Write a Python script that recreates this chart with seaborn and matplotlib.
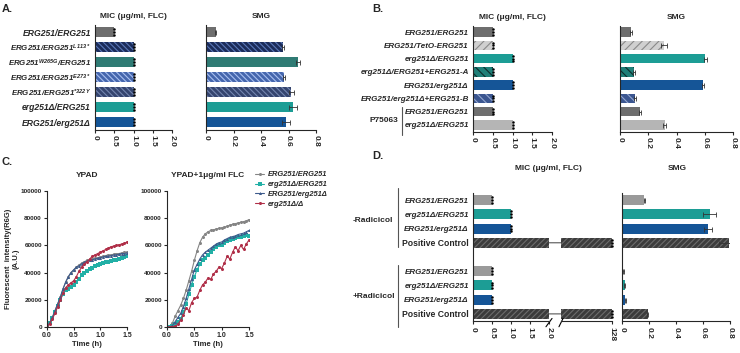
import numpy as np
import pandas as pd
import matplotlib.pyplot as plt
import seaborn as sns
from matplotlib.patches import ConnectionPatch
from matplotlib.lines import Line2D

# ---------------- data ----------------
# Panel A
a_labels = ["ERG251/ERG251", "ERG251/ERG251$^{L113*}$", "ERG251$^{W265G}$/ERG251",
            "ERG251/ERG251$^{E273*}$", "ERG251/ERG251$^{*322Y}$", "erg251Δ/ERG251", "ERG251/erg251Δ"]
a_mic = [0.5, 1.0, 1.0, 1.0, 1.0, 1.0, 1.0]
a_smg = [0.07, 0.56, 0.67, 0.57, 0.62, 0.63, 0.58]
a_smg_err = [0.005, 0.008, 0.012, 0.008, 0.02, 0.03, 0.03]

# Panel B
b_labels = ["ERG251/ERG251", "ERG251/TetO-ERG251", "erg251Δ/ERG251", "erg251Δ/ERG251+ERG251-A",
            "ERG251/erg251Δ", "ERG251/erg251Δ+ERG251-B", "ERG251/ERG251", "erg251Δ/ERG251"]
b_mic = [0.5, 0.5, 1.0, 0.5, 1.0, 0.5, 0.5, 1.0]
b_smg = [0.078, 0.31, 0.605, 0.10, 0.586, 0.108, 0.144, 0.316]
b_smg_err = [0.004, 0.02, 0.012, 0.005, 0.008, 0.008, 0.008, 0.012]

# Panel C (time course, thousands of A.U.)
time_h = [0.0, 0.05, 0.1, 0.15, 0.2, 0.25, 0.3, 0.35, 0.4, 0.45, 0.5, 0.55, 0.6, 0.65, 0.7, 0.75,
          0.8, 0.85, 0.9, 0.95, 1.0, 1.05, 1.1, 1.15, 1.2, 1.25, 1.3, 1.35, 1.4, 1.45, 1.5]
c_strains = ["ERG251/ERG251", "erg251Δ/ERG251", "ERG251/erg251Δ", "erg251Δ/Δ"]
ypad_wt = [0, 3, 7, 12, 17, 22, 28, 33, 37, 40, 42, 44, 45.5, 47, 48, 49, 49.5, 50, 50.5, 51, 51.5,
           52, 52.5, 53, 53, 53.5, 54, 54, 54.5, 55, 55]
ypad_het1 = [0, 3, 6.5, 11, 15.5, 20, 24, 27, 28, 29.5, 31, 33, 35.5, 38, 39.5, 41, 43, 43.5, 45,
             45.5, 46, 47, 47.5, 48, 48.5, 49, 49.5, 50, 51, 51.5, 52]
ypad_het2 = [0, 3, 7, 12, 17, 22, 28, 33, 37, 40, 42, 44, 45, 46.5, 47.5, 48.5, 49, 49.5, 50, 50.5,
             51, 51.5, 52, 52, 52.5, 53, 53, 53.5, 54, 54, 54.5]
ypad_null = [0, 2.5, 6, 10, 15, 20, 25, 29, 31, 32.5, 34, 37, 41, 44, 46.5, 48, 50, 52, 53, 54, 55,
             56, 57, 58, 59, 59.5, 60, 60.5, 61, 61.5, 62.5]
flc_wt = [0, 0.5, 3, 8, 12, 16, 21, 27, 34, 41, 49, 56, 62, 66, 68.5, 70, 71, 71.5, 72, 72.5, 73,
          73.5, 74, 75, 75.5, 76, 76.5, 77, 77.5, 78, 79]
flc_het1 = [0, 0, 0.5, 2, 4, 6, 11, 17, 24, 31, 37, 42, 46, 49, 51, 53, 55, 57, 59, 60, 60.5, 62,
            63, 64, 65, 65.5, 66, 66.5, 67, 67.5, 67]
flc_het2 = [0, 0, 1, 4, 7, 10, 15, 21, 28, 35, 42, 46, 50, 53, 55, 56.5, 58, 59.5, 61, 62, 62.5, 64,
            65, 66, 66.5, 67, 68, 68.5, 69, 70, 71]
flc_null = [0, 0, 0, 0.5, 2, 5, 9, 14, 12, 18, 21, 22, 27, 31, 33, 36, 35, 39, 41, 44, 43, 47, 52,
            50, 55, 59, 56, 60, 57, 61, 64]

# Panel D
d_labels = ["ERG251/ERG251", "erg251Δ/ERG251", "ERG251/erg251Δ", "Positive Control",
            "ERG251/ERG251", "erg251Δ/ERG251", "ERG251/erg251Δ", "Positive Control"]
d_mic = [0.5, 1.0, 1.0, 128, 0.5, 0.5, 0.5, 128]
d_smg = [0.165, 0.65, 0.64, 0.795, 0.01, 0.02, 0.025, 0.19]
d_smg_err = [0.003, 0.05, 0.03, 0.08, 0.005, 0.005, 0.004, 0.005]

# ---------------- colours ----------------
GRAY = "#6e6e6e"
TEAL = "#1c9d95"
BLUE = "#155597"
a_colors = [GRAY, "#1b2c5a", "#2f7b74", "#4566ad", "#34446e", TEAL, BLUE]
a_hcol = [GRAY, "#5a78b8", "#2f7b74", "#a8bff0", "#7486b0", TEAL, BLUE]
a_hatch = ["", "\\\\\\\\\\\\", "", "\\\\\\\\\\\\", "\\\\\\\\\\\\", "", ""]
b_colors = [GRAY, "#d0d0d0", TEAL, "#1f7f78", BLUE, "#3b5690", GRAY, "#b5b5b5"]
b_hcol = [GRAY, "#8a8a8a", TEAL, "#0d2e2c", BLUE, "#93a6d0", GRAY, "#b5b5b5"]
b_hatch = ["", "////", "", "\\\\\\\\", "", "\\\\\\\\", "", ""]
d_colors = ["#9a9a9a", TEAL, BLUE, "#3c3c3c"] * 2
d_hcol = ["#9a9a9a", TEAL, BLUE, "#6c6c6c"] * 2
d_hatch = ["", "", "", "//////"] * 2
c_palette = {"ERG251/ERG251": "#858585", "erg251Δ/ERG251": "#22b0a6",
             "ERG251/erg251Δ": "#3d5b8c", "erg251Δ/Δ": "#b02f48"}

# ---------------- style ----------------
sns.set_theme(style="ticks")
plt.rcParams["font.family"] = ["Liberation Sans", "DejaVu Sans"]
plt.rcParams["font.weight"] = "bold"
plt.rcParams["axes.linewidth"] = 0.8
plt.rcParams["hatch.linewidth"] = 0.8
plt.rcParams["mathtext.fontset"] = "custom"
for k in ["rm", "it", "bf", "sf"]:
    plt.rcParams["mathtext." + k] = "Liberation Sans:italic:bold"

W, H = 740, 353
fig = plt.figure(figsize=(W / 100, H / 100), dpi=100)


def add_ax(x0, y0, x1, y1):
    return fig.add_axes([x0 / W, 1 - y1 / H, (x1 - x0) / W, (y1 - y0) / H])


def ftext(x, y, s, **kw):
    fig.text(x / W, 1 - y / H, s, **kw)


def fline(xs, ys, **kw):
    fig.add_artist(Line2D([x / W for x in xs], [1 - y / H for y in ys], **kw))


def draw_bars(ax, keys, order, values, colors, hatches, hcolors):
    df = pd.DataFrame({"key": keys, "val": values})
    sns.barplot(data=df, y="key", x="val", hue="key", order=order, hue_order=keys,
                palette=dict(zip(keys, colors)), width=0.7, saturation=1,
                legend=False, orient="h", ax=ax)
    bars = sorted(ax.patches, key=lambda p: p.get_y())
    for bar, h, hc in zip(bars, hatches, hcolors):
        bar.set_edgecolor(hc)
        bar.set_linewidth(0)
        bar.set_hatch(h)


def mic_dots(ax, values, positions):
    for v, p in zip(values, positions):
        ax.plot([v] * 3, [p - 0.2, p, p + 0.2], "o", color="black", ms=1.8, mew=0,
                clip_on=False, zorder=5)


def smg_err(ax, values, positions, err):
    ax.errorbar(values, positions, xerr=err, fmt="none", ecolor="#333333",
                elinewidth=0.6, capsize=1.8, capthick=0.6, zorder=4)


def style_bar_axis(ax, n, xmax, ticks, ticklabels, labels=None, fs=6):
    ax.set_xlim(0, xmax)
    ax.set_ylim(n - 0.5, -0.5)
    ax.set_xticks(ticks)
    ax.set_xticklabels(ticklabels, rotation=-90, fontsize=6)
    ax.set_yticks(range(n))
    if labels is None:
        ax.set_yticklabels([])
    else:
        ax.set_yticklabels(labels, fontsize=fs, style="italic", weight="bold")
    ax.tick_params(axis="y", length=0, pad=3)
    ax.tick_params(axis="x", length=2.5, width=0.8, pad=1.5)
    sns.despine(ax=ax)
    ax.set_xlabel("")
    ax.set_ylabel("")


mic_ticks = [0, 0.5, 1.0, 1.5, 2.0]
mic_ticklabels = ["0", "0.5", "1.0", "1.5", "2.0"]
smg_ticks = [0, 0.2, 0.4, 0.6, 0.8]
smg_ticklabels = ["0", "0.2", "0.4", "0.6", "0.8"]

# ---------------- Panel A ----------------
a_keys = [f"a{i}" for i in range(len(a_labels))]
a_pos = np.arange(len(a_keys))
ax = add_ax(95, 24.5, 172, 129.5)
draw_bars(ax, a_keys, a_keys, a_mic, a_colors, a_hatch, a_hcol)
mic_dots(ax, a_mic, a_pos)
style_bar_axis(ax, len(a_keys), 2.0, mic_ticks, mic_ticklabels, a_labels, fs=6.2)
for lbl in ax.get_yticklabels():
    if "$" in lbl.get_text():
        lbl.set_fontsize(5.7)
ax.set_title("MIC (μg/ml, FLC)", fontsize=6, weight="bold", pad=5)

ax = add_ax(206, 24.5, 316, 129.5)
draw_bars(ax, a_keys, a_keys, a_smg, a_colors, a_hatch, a_hcol)
smg_err(ax, a_smg, a_pos, a_smg_err)
style_bar_axis(ax, len(a_keys), 0.8, smg_ticks, smg_ticklabels)
ax.set_title("SMG", fontsize=6, weight="bold", pad=5)

# ---------------- Panel B ----------------
b_keys = [f"b{i}" for i in range(len(b_labels))]
b_pos = np.arange(len(b_keys))
ax = add_ax(473, 25.5, 552, 131.5)
draw_bars(ax, b_keys, b_keys, b_mic, b_colors, b_hatch, b_hcol)
mic_dots(ax, b_mic, b_pos)
style_bar_axis(ax, len(b_keys), 2.0, mic_ticks, mic_ticklabels, b_labels, fs=5.8)
ax.set_title("MIC (μg/ml, FLC)", fontsize=6, weight="bold", pad=5)

ax = add_ax(620, 25.5, 733, 131.5)
draw_bars(ax, b_keys, b_keys, b_smg, b_colors, b_hatch, b_hcol)
smg_err(ax, b_smg, b_pos, b_smg_err)
style_bar_axis(ax, len(b_keys), 0.8, smg_ticks, smg_ticklabels)
ax.set_title("SMG", fontsize=6, weight="bold", pad=5)

ftext(398, 121, "P75063", fontsize=6, weight="bold", ha="right", va="center")
fline([402, 402], [107, 135], color="#555555", lw=0.8)

# ---------------- Panel C ----------------
def curve_frame(series):
    rows = []
    for strain, vals in zip(c_strains, series):
        for t, v in zip(time_h, vals):
            rows.append({"Time": t, "Intensity": v * 1000, "Strain": strain})
    return pd.DataFrame(rows)


c_sets = [("YPAD", [ypad_wt, ypad_het1, ypad_het2, ypad_null], (47, 127)),
          ("YPAD+1μg/ml FLC", [flc_wt, flc_het1, flc_het2, flc_null], (167, 249))]
c_axes = []
for title, series, (x0, x1) in c_sets:
    ax = add_ax(x0, 191, x1, 327)
    sns.lineplot(data=curve_frame(series), x="Time", y="Intensity", hue="Strain", style="Strain",
                 hue_order=c_strains, style_order=c_strains, palette=c_palette,
                 markers=["o", "s", "^", "o"], dashes=False, markersize=2.2, mew=0,
                 linewidth=0.8, errorbar=None, ax=ax)
    ax.set_xlim(0, 1.5)
    ax.set_ylim(0, 100000)
    ax.set_xticks([0, 0.5, 1.0, 1.5])
    ax.set_xticklabels(["0.0", "0.5", "1.0", "1.5"], fontsize=5)
    yt = [0, 20000, 40000, 60000, 80000, 100000]
    ax.set_yticks(yt)
    ax.set_yticklabels([str(v) for v in yt], fontsize=4.6)
    ax.tick_params(length=2.5, width=0.8, pad=1.2)
    ax.set_xlabel("Time (h)", fontsize=5.5, weight="bold", labelpad=1.5)
    ax.set_ylabel("")
    ax.set_title(title, fontsize=6, weight="bold", pad=10)
    sns.despine(ax=ax)
    c_axes.append(ax)

c_axes[0].set_ylabel("Fluorescent  intensity(R6G)\n(A.U.)", fontsize=5.5, weight="bold",
                     labelpad=1, linespacing=1.1)
handles, labels = c_axes[1].get_legend_handles_labels()
for a in c_axes:
    if a.get_legend() is not None:
        a.get_legend().remove()
fig.legend(handles, labels, loc="upper left", bbox_to_anchor=(252 / W, 1 - 168 / H),
           frameon=False, prop={"size": 5.4, "style": "italic", "weight": "bold"},
           handlelength=1.2, handletextpad=0.5, labelspacing=0.35, borderaxespad=0)

# ---------------- Panel D ----------------
d_keys = [f"d{i}" for i in range(len(d_labels))]
d_order = d_keys[:4] + ["gap"] + d_keys[4:]
d_pos = [d_order.index(k) for k in d_keys]
d_ticklabels = d_labels[:4] + [""] + d_labels[4:]
n_d = len(d_order)

ax1 = add_ax(473, 193, 549, 321)
draw_bars(ax1, d_keys, d_order, d_mic, d_colors, d_hatch, d_hcol)
low = [(v, p) for v, p in zip(d_mic, d_pos) if v <= 2]
mic_dots(ax1, [v for v, _ in low], [p for _, p in low])
style_bar_axis(ax1, n_d, 2.0, mic_ticks, mic_ticklabels, d_ticklabels, fs=5.8)
for lbl in ax1.get_yticklabels():
    if lbl.get_text() == "Positive Control":
        lbl.set_style("normal")
        lbl.set_fontsize(6.2)

ax2 = add_ax(561, 193, 612, 321)
draw_bars(ax2, d_keys, d_order, d_mic, d_colors, d_hatch, d_hcol)
high = [(v, p) for v, p in zip(d_mic, d_pos) if v > 2]
mic_dots(ax2, [v for v, _ in high], [p for _, p in high])
style_bar_axis(ax2, n_d, 128, [128], ["128"])
ax2.set_xlim(110, 128)
ax2.spines["left"].set_visible(False)

for v, p in high:
    fig.add_artist(ConnectionPatch(xyA=(2.0, p), coordsA=ax1.transData,
                                   xyB=(110, p), coordsB=ax2.transData,
                                   color="#555555", lw=0.8))
for a, xb in [(ax1, 1.0), (ax2, 0.0)]:
    a.plot([xb - 0.04, xb + 0.04], [-0.045, 0.02], transform=a.transAxes,
           color="black", lw=0.8, clip_on=False)

ax = add_ax(622, 193, 730, 321)
draw_bars(ax, d_keys, d_order, d_smg, d_colors, d_hatch, d_hcol)
smg_err(ax, d_smg, d_pos, d_smg_err)
style_bar_axis(ax, n_d, 0.8, smg_ticks, smg_ticklabels)

ftext(548, 168, "MIC (μg/ml, FLC)", fontsize=6, weight="bold", ha="center", va="center")
ftext(677, 168, "SMG", fontsize=6, weight="bold", ha="center", va="center")

ftext(353, 221, "-Radicicol", fontsize=6, weight="bold", ha="left", va="center")
ftext(353, 296, "+Radicicol", fontsize=6, weight="bold", ha="left", va="center")
fline([398, 398], [188, 247], color="#555555", lw=0.8)
fline([398, 398], [265, 327], color="#555555", lw=0.8)

# panel letters
for x, y, s in [(2, 9, "A."), (372, 9, "B."), (2, 162, "C."), (372, 156, "D.")]:
    ftext(x, y, s, fontsize=8, weight="bold", ha="left", va="center")

fig.savefig("out.png", dpi=100)
